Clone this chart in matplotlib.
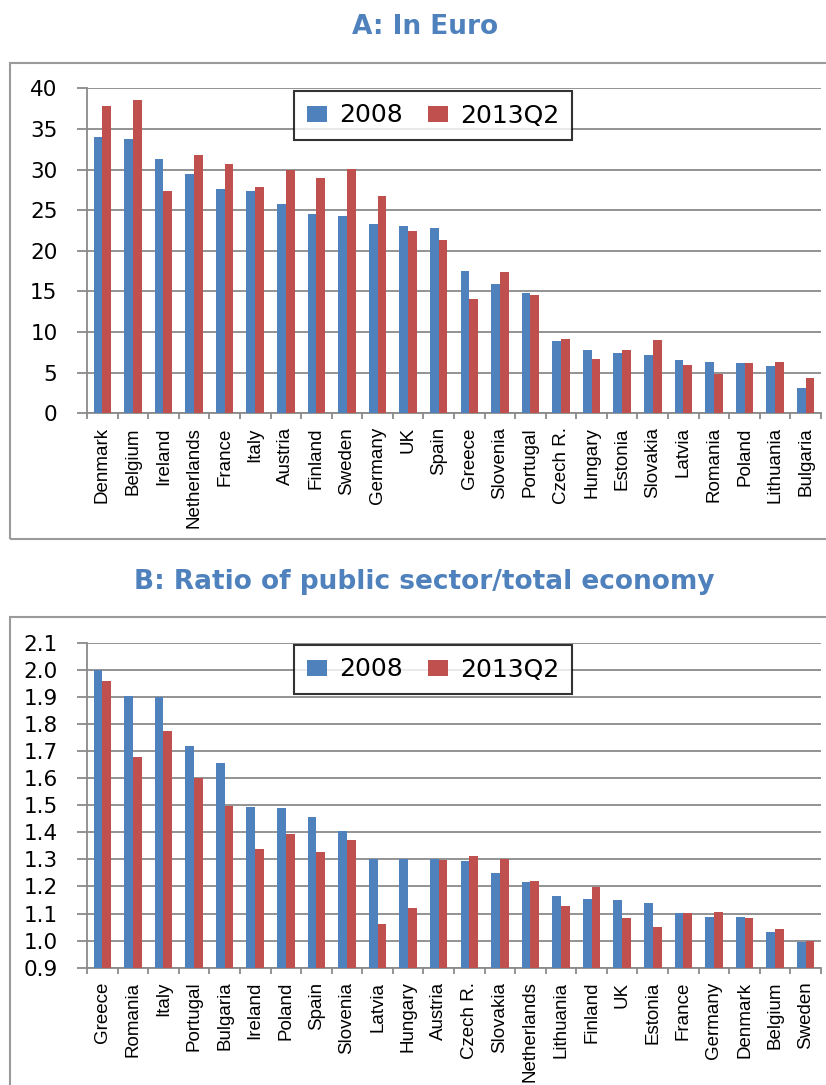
import matplotlib
matplotlib.use('Agg')

import numpy as np
import matplotlib.pyplot as plt
from matplotlib.patches import Rectangle, Patch

# --- datos del panel A: salario en euros ---
paises_a = ["Denmark", "Belgium", "Ireland", "Netherlands", "France", "Italy",
            "Austria", "Finland", "Sweden", "Germany", "UK", "Spain", "Greece",
            "Slovenia", "Portugal", "Czech R.", "Hungary", "Estonia", "Slovakia",
            "Latvia", "Romania", "Poland", "Lithuania", "Bulgaria"]
euro_2008 = [34.0, 33.7, 31.3, 29.5, 27.6, 27.4, 25.8, 24.5, 24.3, 23.3, 23.0, 22.8,
             17.5, 15.9, 14.8, 8.9, 7.75, 7.4, 7.2, 6.6, 6.3, 6.15, 5.8, 3.15]
euro_2013 = [37.8, 38.6, 27.3, 31.75, 30.7, 27.8, 29.9, 29.0, 30.1, 26.8, 22.4, 21.3,
             14.1, 17.4, 14.5, 9.2, 6.7, 7.75, 9.05, 5.9, 4.8, 6.15, 6.3, 4.3]

# --- datos del panel B: ratio sector publico / economia total ---
paises_b = ["Greece", "Romania", "Italy", "Portugal", "Bulgaria", "Ireland", "Poland",
            "Spain", "Slovenia", "Latvia", "Hungary", "Austria", "Czech R.", "Slovakia",
            "Netherlands", "Lithuania", "Finland", "UK", "Estonia", "France", "Germany",
            "Denmark", "Belgium", "Sweden"]
ratio_2008 = [2.00, 1.904, 1.90, 1.717, 1.657, 1.492, 1.491, 1.456, 1.406, 1.302, 1.30,
              1.30, 1.293, 1.248, 1.216, 1.166, 1.152, 1.15, 1.14, 1.103, 1.088, 1.087,
              1.03, 0.995]
ratio_2013 = [1.96, 1.677, 1.775, 1.599, 1.496, 1.339, 1.392, 1.326, 1.370, 1.06, 1.12,
              1.297, 1.313, 1.30, 1.22, 1.129, 1.199, 1.082, 1.051, 1.103, 1.107, 1.083,
              1.043, 0.998]

series = ["2008", "2013Q2"]
AZUL = '#4F81BD'
ROJO = '#C0504D'
GRIS = '#8a8a8a'

W, H = 826, 1085
fig = plt.figure(figsize=(W / 100, H / 100), dpi=100)


def px_axes(x0, y0, x1, y1):
    # caja en pixeles (origen arriba a la izquierda) -> fracciones de figura
    return [x0 / W, 1 - y1 / H, (x1 - x0) / W, (y1 - y0) / H]


def marco(x0, y0, x1, y1):
    r = Rectangle((x0 / W, 1 - y1 / H), (x1 - x0) / W, (y1 - y0) / H,
                  transform=fig.transFigure, fill=False, edgecolor='#9a9a9a',
                  linewidth=1.5, clip_on=False)
    fig.patches.append(r)


def panel(rect, paises, v1, v2, ylim, yticks, fmt, titulo, titulo_y, leyenda_y):
    ax = fig.add_axes(rect)
    x = np.arange(len(paises))
    w = 0.285
    ax.bar(x - w / 2, v1, w, color=AZUL, zorder=3)
    ax.bar(x + w / 2, v2, w, color=ROJO, zorder=3)

    ax.set_xlim(-0.5, len(paises) - 0.5)
    ax.set_ylim(*ylim)
    ax.set_yticks(yticks)
    ax.set_yticklabels([fmt.format(t) for t in yticks],
                       fontsize=15.5, family='DejaVu Sans')
    ax.yaxis.grid(True, color=GRIS, linewidth=1.3, zorder=0)
    ax.set_axisbelow(True)

    ax.set_xticks(x)
    ax.set_xticklabels(paises, rotation=90, fontsize=13.5, family='Liberation Sans')
    ax.set_xticks(np.arange(len(paises) + 1) - 0.5, minor=True)
    ax.tick_params(axis='x', which='major', length=0, pad=10)
    ax.tick_params(axis='x', which='minor', length=4.5, color=GRIS, width=1.3)
    ax.tick_params(axis='y', length=7.2, color=GRIS, width=1.3, pad=14)

    for s in ['top', 'right']:
        ax.spines[s].set_visible(False)
    for s in ['left', 'bottom']:
        ax.spines[s].set_color(GRIS)
        ax.spines[s].set_linewidth(1.3)

    fig.text(0.514, 1 - titulo_y / H, titulo, ha='center', va='center',
             fontsize=19, fontweight='bold', color=AZUL, family='DejaVu Sans')

    handles = [Patch(facecolor=AZUL), Patch(facecolor=ROJO)]
    leg = fig.legend(handles, series, loc='upper left',
                     bbox_to_anchor=(294 / W, 1 - leyenda_y / H),
                     bbox_transform=fig.transFigure, ncol=2, fontsize=18,
                     frameon=True, fancybox=False, shadow=False,
                     handlelength=0.8, handleheight=0.6, handletextpad=0.5,
                     columnspacing=1.0, borderpad=0.5, borderaxespad=0)
    leg.get_frame().set_edgecolor('black')
    leg.get_frame().set_linewidth(1.5)
    return ax


# marcos exteriores de cada grafico
marco(10, 63, 840, 539)
marco(10, 617, 840, 1100)

panel(px_axes(87, 88.3, 821, 413.3), paises_a, euro_2008, euro_2013,
      (0, 40), np.arange(0, 41, 5), "{:.0f}", "A: In Euro", 27, 91)
panel(px_axes(87, 642.7, 821, 967.7), paises_b, ratio_2008, ratio_2013,
      (0.9, 2.1), np.round(np.arange(0.9, 2.11, 0.1), 1), "{:.1f}",
      "B: Ratio of public sector/total economy", 582, 645)

fig.savefig('out.png', dpi=100)
plt.close(fig)
